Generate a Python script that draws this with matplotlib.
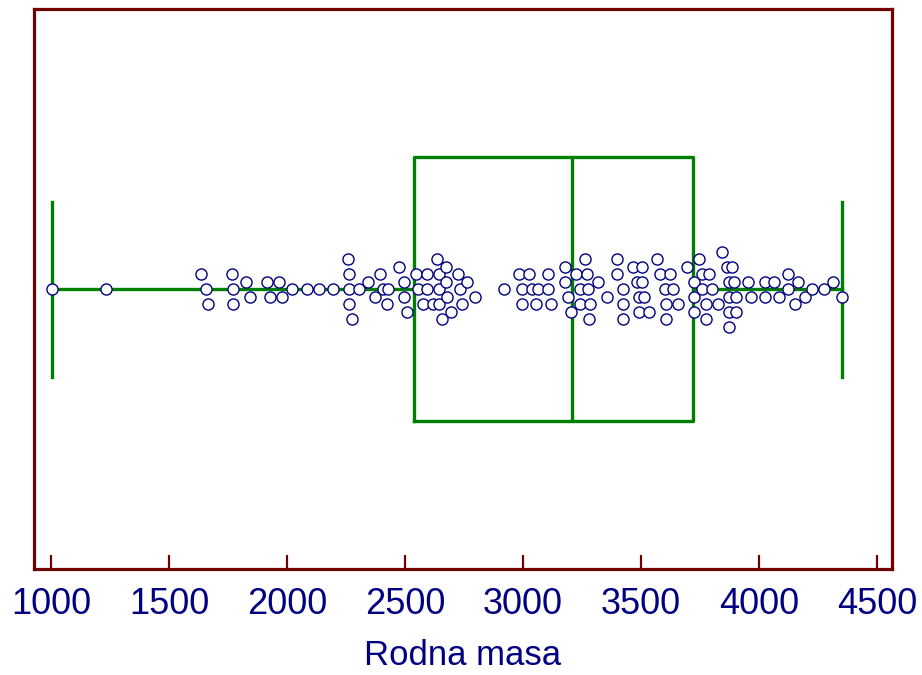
import numpy as np
import matplotlib.pyplot as plt

# Rodna masa (g) - pojedinacna mjerenja, ocitano sa slike
rodna_masa = [
    1005, 1235, 1635, 1655, 1665, 1765, 1770, 1770, 1825, 1845,
    1915, 1965, 1930, 1980, 2020, 2085, 2135, 2195, 2260, 2265,
    2265, 2265, 2275, 2305, 2345, 2395, 2375, 2405, 2430, 2425,
    2475, 2495, 2495, 2510, 2545, 2555, 2575, 2595, 2595, 2620,
    2635, 2645, 2645, 2645, 2675, 2675, 2680, 2695, 2655, 2725,
    2735, 2740, 2765, 2795, 2920, 2985, 3025, 2995, 3040, 3065,
    3105, 3105, 2995, 3055, 3120, 3180, 3180, 3190, 3205, 3225,
    3240, 3240, 3265, 3270, 3275, 3285, 3280, 3320, 3355, 3400,
    3400, 3425, 3425, 3425, 3465, 3505, 3485, 3505, 3490, 3515,
    3490, 3535, 3570, 3580, 3625, 3600, 3635, 3605, 3655, 3605,
    3695, 3725, 3725, 3725, 3745, 3760, 3760, 3775, 3775, 3790,
    3800, 3825, 3845, 3865, 3885, 3875, 3895, 3875, 3905, 3875,
    3905, 3875, 3955, 3965, 4025, 4065, 4025, 4085, 4125, 4125,
    4165, 4155, 4195, 4225, 4275, 4315, 4350,
]
# vertikalni pomak tocke (razina rasipanja)
razina = [
    0, 0, 2, 0, -2, 2, 0, -2, 1, -1,
    1, 1, -1, -1, 0, 0, 0, 0, 4, 2,
    0, -2, -4, 0, 1, 2, -1, 0, 0, -2,
    3, 1, -1, -3, 2, 0, -2, 2, 0, -2,
    4, 2, 0, -2, 3, 1, -1, -3, -4, 2,
    0, -2, 1, -1, 0, 2, 2, 0, 0, 0,
    0, 2, -2, -2, -2, 3, 1, -1, -3, 2,
    0, -2, 4, 2, 0, -2, -4, 1, -1, 4,
    2, 0, -2, -4, 3, 3, 1, 1, -1, -1,
    -3, -3, 4, 2, 2, 0, 0, -2, -2, -4,
    3, 1, -1, -3, 4, 2, 0, -2, -4, 2,
    0, -2, 5, 3, 3, 1, 1, -1, -1, -3,
    -3, -5, 1, -1, 1, 1, -1, -1, 2, 0,
    1, -2, -1, 0, 0, 1, -1,
]

# box plot statistika
kvartil_1 = 2538
medijan = 3208
kvartil_3 = 3720
minimum = 1005
maksimum = 4350

ticks = [1000, 1500, 2000, 2500, 3000, 3500, 4000, 4500]

frame_col = '#700000'
box_col = '#008000'
text_col = '#000080'

plt.rcParams['font.family'] = ['Liberation Sans', 'DejaVu Sans']

fig = plt.figure(figsize=(9.22, 6.75), dpi=100)
ax = fig.add_axes([34 / 922, 1 - 569 / 675, (892 - 34) / 922, (569 - 9) / 675])

stats = [{'q1': kvartil_1, 'med': medijan, 'q3': kvartil_3,
          'whislo': minimum, 'whishi': maksimum, 'fliers': []}]
lw = 2.4
ax.bxp(stats, positions=[0], widths=0.94, capwidths=0.625,
       orientation='horizontal', showfliers=False,
       boxprops=dict(color=box_col, linewidth=lw),
       medianprops=dict(color=box_col, linewidth=lw),
       whiskerprops=dict(color=box_col, linewidth=lw),
       capprops=dict(color=box_col, linewidth=lw),
       manage_ticks=False)

step = 7.5 / 280
y = np.array(razina) * step
ax.plot(rodna_masa, y, 'o', ms=8, mfc='white', mec=text_col, mew=1.0,
        zorder=5, clip_on=False)

ax.set_xlim(928, 4564)
ax.set_ylim(-1, 1)
ax.set_yticks([])
ax.set_xticks(ticks)
ax.tick_params(axis='x', direction='in', length=10, width=1.6,
               color=frame_col, labelcolor=text_col, labelsize=26, pad=13)
for s in ax.spines.values():
    s.set_color(frame_col)
    s.set_linewidth(2.3)

ax.set_xlabel('Rodna masa', fontsize=25, color=text_col, labelpad=12)

fig.savefig('out.png', dpi=100)
